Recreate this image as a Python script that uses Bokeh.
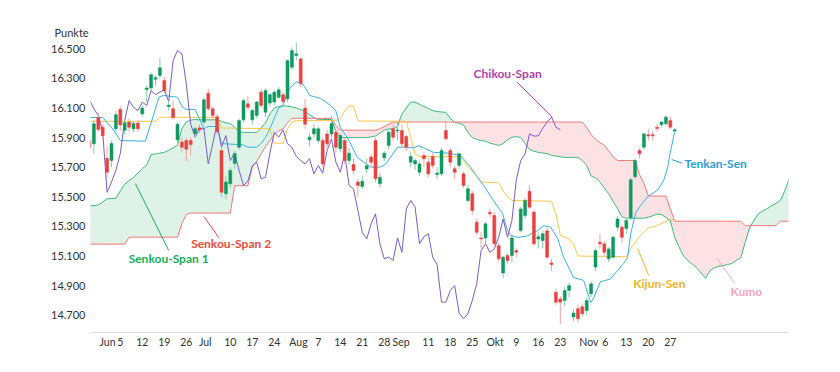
import numpy as np
from bokeh.plotting import figure
from bokeh.models import Range1d, FixedTicker, Label, ColumnDataSource
from bokeh.embed import file_html
from bokeh.resources import INLINE

# ---------------- data (trading-day index: 0 = 1 Jun 2023, -5 = 25 May 2023) ----------------
first_idx = -5

opens = [15880, 15858, 16035, 15970, 15760,
         15745, 15960, 16090, 15950, 16005, 15960, 15998,
         16060, 16225, 16235, 16295, 16320,
         16285, 16110, 16095, 15885, 15870,
         15880, 15880, 15927, 15966, 16005,
         16200, 16095, 16040, 15812, 15520,
         15588, 15725, 15835, 16020, 16128,
         16020, 16050, 16207, 16072, 16133,
         16140, 16173, 16190, 16162, 16375,
         16455, 16432, 16100, 15885, 15925,
         15880, 15880, 15925, 15925, 15936,
         15825, 15880, 15745, 15718, 15600,
         15570, 15688, 15768, 15880, 15588,
         15763, 15847, 15960, 15945, 15948,
         15907, 15734, 15722, 15666, 15779,
         15734, 15772, 15650, 15655, 15948,
         15812, 15690, 15712, 15655, 15475,
         15520, 15328, 15222, 15222, 15395,
         15373, 15170, 14985, 15103, 15103,
         15137, 15272, 15373, 15538, 15396,
         15215, 15205, 15270, 15053, 14855,
         14810, 14800, 14867, 14687, 14743,
         14757, 14732, 14845, 15025, 15193,
         15182, 15081, 15092, 15295, 15295,
         15285, 15358, 15635, 15812, 15835,
         15920, 15920, 15970, 15987, 15993,
         16015, 15944]

highs = [15900, 16015, 16065, 15990, 15840,
         15880, 16080, 16115, 16020, 16030, 16010, 16020,
         16115, 16250, 16340, 16320, 16440,
         16310, 16150, 16150, 16000, 15900,
         15900, 15900, 15975, 15990, 16170,
         16230, 16110, 16060, 15840, 15640,
         15700, 15810, 16030, 16160, 16180,
         16095, 16150, 16230, 16230, 16200,
         16220, 16240, 16210, 16430, 16510,
         16540, 16440, 16160, 15930, 15990,
         15975, 15900, 15950, 16050, 15960,
         15930, 15900, 15830, 15760, 15620,
         15640, 15760, 15790, 15900, 15660,
         15810, 15950, 15990, 16000, 15990,
         15920, 15800, 15760, 15740, 15800,
         15760, 15800, 15700, 15830, 16005,
         15830, 15710, 15800, 15670, 15580,
         15540, 15350, 15260, 15330, 15420,
         15400, 15190, 15100, 15120, 15240,
         15150, 15430, 15490, 15575, 15410,
         15260, 15270, 15290, 15080, 14880,
         14830, 14890, 14920, 14740, 14770,
         14780, 14820, 14930, 15150, 15250,
         15200, 15160, 15240, 15370, 15310,
         15350, 15630, 15760, 15830, 15935,
         15960, 15945, 15990, 16010, 16050,
         16040, 15965]

lows = [15760, 15790, 15940, 15880, 15630,
        15700, 15940, 15950, 15920, 15940, 15935, 15940,
        16040, 16140, 16220, 16250, 16300,
        16200, 16080, 16020, 15860, 15800,
        15740, 15780, 15900, 15930, 15990,
        16080, 16020, 15920, 15497, 15480,
        15560, 15690, 15820, 16000, 16080,
        15990, 16030, 16100, 16040, 16110,
        16120, 16160, 16120, 16140, 16360,
        16420, 16240, 15960, 15840, 15900,
        15860, 15700, 15820, 15900, 15800,
        15800, 15720, 15720, 15650, 15500,
        15550, 15660, 15700, 15600, 15560,
        15740, 15820, 15880, 15880, 15830,
        15810, 15700, 15680, 15640, 15700,
        15630, 15690, 15620, 15640, 15880,
        15700, 15620, 15690, 15560, 15460,
        15380, 15240, 15150, 15180, 15360,
        15170, 15060, 14950, 15050, 15060,
        15090, 15260, 15350, 15420, 15170,
        15150, 15150, 15080, 15000, 14770,
        14640, 14760, 14820, 14660, 14650,
        14690, 14700, 14820, 15000, 15150,
        15100, 15060, 15080, 15270, 15190,
        15250, 15340, 15620, 15760, 15820,
        15880, 15880, 15940, 15970, 15980,
        15955, 15935]

closes = [15830, 15993, 15955, 15912, 15665,
          15860, 16055, 15985, 16000, 15970, 15995, 15960,
          16100, 16235, 16325, 16305, 16372,
          16215, 16120, 16035, 15990, 15835,
          15822, 15853, 15960, 15952, 16155,
          16095, 16050, 15940, 15530, 15600,
          15678, 15792, 16015, 16150, 16105,
          16083, 16140, 16117, 16218, 16190,
          16207, 16223, 16143, 16420, 16488,
          16466, 16264, 15990, 15903, 15960,
          15960, 15722, 15858, 15993, 15835,
          15914, 15745, 15795, 15678, 15577,
          15605, 15710, 15734, 15622, 15632,
          15795, 15936, 15903, 15952, 15858,
          15835, 15772, 15745, 15722, 15757,
          15655, 15712, 15660, 15812, 15892,
          15734, 15666, 15790, 15577, 15554,
          15407, 15260, 15215, 15317, 15385,
          15182, 15081, 15092, 15070, 15222,
          15125, 15418, 15475, 15430, 15182,
          15230, 15250, 15092, 15042, 14788,
          14788, 14867, 14900, 14714, 14676,
          14710, 14800, 14912, 15137, 15182,
          15125, 15148, 15227, 15350, 15227,
          15340, 15615, 15745, 15790, 15925,
          15910, 15912, 15962, 16005, 16038,
          15970, 15953]

# Tenkan-Sen (vertices: trading-day index, value)
tenkan_x = [-5, -2, 0.5, 2, 7.7, 8.9, 10.8, 11.8, 15, 16, 17, 19, 20, 21, 22, 24, 25, 30, 31, 33,
            34, 35, 36, 37, 38, 39, 40, 41, 42, 43, 44, 45, 47.5, 49.8, 51, 52, 53.6, 55.9, 58.9, 61,
            62.3, 65, 67.3, 68.6, 69.8, 71, 73.2, 76.4, 79.3, 80.9, 81.6, 83.2, 84.5, 86.8, 88.9, 90,
            90.7, 92.3, 94.5, 95.9, 96.8, 98.2, 99.8, 101.4, 102.7, 105, 107.3, 108.9, 109.5, 111.1,
            113.4, 116.4, 117.3, 118, 119.1, 120.2, 122, 124.1, 125.5, 126.4, 127, 128]
tenkan_y = [16036, 16036, 15950, 15880, 15876, 15990, 16173, 16185, 16173, 16110, 16090, 16090, 16025,
            15960, 15975, 15975, 15860, 15850, 15835, 15835, 15860, 15900, 15960, 16030, 16100, 16115,
            16210, 16250, 16275, 16272, 16240, 16185, 16165, 16117, 16080, 15967, 15900, 15765, 15700,
            15700, 15720, 15835, 15835, 15830, 15845, 15830, 15800, 15795, 15780, 15725, 15700, 15630,
            15580, 15475, 15385, 15270, 15240, 15225, 15235, 15260, 15270, 15305, 15295, 15218, 15095,
            14955, 14935, 14785, 14810, 14925, 14945, 15050, 15090, 15250, 15390, 15440, 15505, 15545,
            15610, 15700, 15800, 15940]

# Kijun-Sen (vertices)
kijun_x = [-5, 10, 11, 24, 25, 36, 37, 39, 40, 41, 42, 51, 52, 53, 54, 55, 56, 67, 68, 69, 70, 79,
           80, 81, 83, 84, 88, 89, 90, 91, 100, 101, 102, 104, 105, 106, 117, 118, 120, 122, 124,
           126, 127, 128]
kijun_y = [16010, 16010, 16037, 16037, 15965, 15960, 15862, 15862, 15958, 16003, 16015, 16015, 16030,
           16080, 16115, 16115, 16012, 16010, 15900, 15790, 15772, 15770, 15740, 15700, 15645, 15600,
           15595, 15540, 15500, 15475, 15470, 15385, 15240, 15215, 15180, 15100, 15095, 15150, 15230,
           15290, 15305, 15335, 15345, 15345]

# Senkou spans, one value per trading day from index -5 to 154
span_first = -5
span_a = [15440, 15440, 15445, 15465, 15487,
          15488, 15490, 15540, 15585, 15610, 15630, 15660, 15690, 15715, 15785,
          15790, 15795, 15800, 15815, 15830, 15850, 15960, 16005, 16018, 16022,
          16020, 16020, 16020, 16020, 16020, 16010, 16000, 15995, 15970, 15940,
          15935, 15935, 15935, 15935, 15965, 16000, 16060, 16100, 16110, 16115,
          16112, 16108, 16100, 16090, 16075, 16055, 16035, 16020, 16022, 16022,
          16022, 15940, 15900, 15900, 15900, 15900, 15900, 15900, 15900, 15905,
          15910, 15930, 15950, 15958, 15960, 15975, 16060, 16100, 16140, 16140,
          16125, 16110, 16097, 16082, 16076, 16073, 16070, 16030, 16002, 15998,
          15985, 15935, 15900, 15888, 15880, 15875, 15862, 15855, 15847, 15860,
          15885, 15903, 15906, 15900, 15860, 15820, 15808, 15800, 15796, 15792,
          15780, 15775, 15770, 15766, 15766, 15766, 15766, 15745, 15712, 15640,
          15628, 15600, 15560, 15520, 15470, 15420, 15365, 15355, 15355, 15355,
          15355, 15355, 15362, 15372, 15382, 15380, 15362, 15340, 15225, 15160,
          15100, 15068, 15045, 15020, 14985, 14950, 15000, 15020, 15030, 15035,
          15042, 15050, 15070, 15088, 15190, 15290, 15340, 15385, 15405, 15420,
          15440, 15455, 15475, 15540, 15620]
span_b = [15180, 15180, 15180, 15180, 15180,
          15180, 15180, 15180, 15180, 15227, 15227, 15227, 15227, 15227, 15227,
          15227, 15227, 15227, 15227, 15227, 15227, 15320, 15380, 15390, 15390,
          15390, 15390, 15390, 15390, 15390, 15390, 15390, 15390, 15575, 15575,
          15575, 15575, 15700, 15740, 15790, 15840, 15880, 15920, 15945, 15960,
          16000, 16030, 16030, 16030, 16030, 16030, 16030, 16030, 16030, 16030,
          16030, 15980, 15950, 15950, 15950, 15950, 15950, 15950, 15950, 15950,
          15950, 15960, 15975, 15990, 16005, 16005, 16005, 16005, 16005, 16005,
          16005, 16005, 16005, 16005, 16005, 16005, 16005, 16005, 16005, 16005,
          16005, 16005, 16005, 16005, 16005, 16005, 16005, 16005, 16005, 16005,
          16005, 16005, 16005, 16005, 16005, 16005, 16005, 16005, 16005, 16005,
          16005, 16005, 16005, 16005, 16005, 16005, 16005, 16005, 15970, 15920,
          15890, 15865, 15850, 15810, 15770, 15745, 15745, 15745, 15745, 15745,
          15650, 15590, 15505, 15505, 15505, 15505, 15505, 15420, 15335, 15335,
          15335, 15335, 15335, 15335, 15335, 15335, 15335, 15335, 15335, 15335,
          15335, 15335, 15335, 15335, 15305, 15305, 15305, 15305, 15305, 15305,
          15305, 15305, 15335, 15335, 15335]

chikou_shift = 26

# axis ticks
y_ticks = [14700, 14900, 15100, 15300, 15500, 15700, 15900, 16100, 16300, 16500]
y_labels = ["14.700", "14.900", "15.100", "15.300", "15.500", "15.700", "15.900", "16.100", "16.300", "16.500"]
x_ticks = [-0.9, 2, 7, 12, 17, 21.3, 27, 32, 37, 42.5, 47, 52, 57, 62, 65.8, 72, 77, 82, 87.2, 92, 97,
           102, 108.5, 112.2, 117, 122, 127]
x_labels = ["Jun", "5", "12", "19", "26", "Jul", "10", "17", "24", "Aug", "7", "14", "21", "28", "Sep",
            "11", "18", "25", "Okt", "9", "16", "23", "Nov", "6", "13", "20", "27"]

# ---------------- figure ----------------
FONT = "Lato"
GREEN = "#0f9960"
RED = "#e8413f"
GREEN_WICK = "#86cdaa"
RED_WICK = "#f2a3a3"

p = figure(width=824, height=356, output_backend="svg", toolbar_location=None,
           x_range=Range1d(-4.77, 153.86), y_range=Range1d(14583, 16556),
           min_border_left=90, min_border_right=36, min_border_top=40, min_border_bottom=24)
p.outline_line_color = None
p.grid.visible = False
p.background_fill_color = "white"
p.border_fill_color = "white"

p.title.text = "Punkte"
p.title.align = "left"
p.title.offset = -36
p.title.standoff = 4
p.title.text_font = FONT
p.title.text_font_size = "11px"
p.title.text_font_style = "normal"
p.title.text_color = "#333333"

o = np.array(opens, dtype=float)
h = np.array(highs, dtype=float)
l = np.array(lows, dtype=float)
c = np.array(closes, dtype=float)
idx = np.arange(first_idx, first_idx + len(o))
up = c >= o

span_x = np.arange(span_first, span_first + len(span_a))
A = np.array(span_a, dtype=float)
B = np.array(span_b, dtype=float)
top = np.maximum(A, B)

# Kumo (cloud)
p.varea(x=span_x, y1=B, y2=top, fill_color="#dff2e7")
p.varea(x=span_x, y1=A, y2=top, fill_color="#fde2e5")
p.line(span_x, A, line_color="#3dba7e", line_width=1)
p.line(span_x, B, line_color="#f47777", line_width=1)

# Kijun / Tenkan / Chikou
p.line(kijun_x, kijun_y, line_color="#f8c84e", line_width=1)
p.line(tenkan_x, tenkan_y, line_color="#3ab2e4", line_width=1)
p.line(idx[:len(c) - chikou_shift], c[chikou_shift:], line_color="#7b5bd3", line_width=1)

# candles
src = ColumnDataSource(dict(
    x=idx, h=h, l=l, top=np.maximum(o, c), bot=np.minimum(o, c),
    body=np.where(up, GREEN, RED), wick=np.where(up, GREEN_WICK, RED_WICK)))
p.segment(x0="x", y0="l", x1="x", y1="h", line_color="wick", line_width=1, source=src)
p.vbar(x="x", width=0.68, top="top", bottom="bot", fill_color="body", line_color="body",
       line_width=0.5, source=src)

# axes
p.yaxis.ticker = FixedTicker(ticks=y_ticks)
p.yaxis.major_label_overrides = dict(zip(y_ticks, y_labels))
p.yaxis.axis_line_color = None
p.yaxis.major_tick_line_color = None
p.yaxis.minor_tick_line_color = None
p.yaxis.major_tick_out = 0
p.yaxis.major_label_standoff = 5
p.xaxis.ticker = FixedTicker(ticks=x_ticks)
p.xaxis.major_label_overrides = dict(zip(x_ticks, x_labels))
p.xaxis.axis_line_color = "#dcdcdc"
p.xaxis.major_tick_line_color = None
p.xaxis.minor_tick_line_color = None
p.xaxis.major_tick_out = 0
p.xaxis.major_label_standoff = 3
for ax in (p.xaxis, p.yaxis):
    ax.major_label_text_font = FONT
    ax.major_label_text_color = "#333333"
p.yaxis.major_label_text_font_size = "11px"
p.xaxis.major_label_text_font_size = "10.5px"

# annotations (label text, colour, label anchor, leader line)
annotations = [
    ("Chikou-Span", "#b53fb4", (82.3, 16331), (92.2, 16274, 100.2, 16038)),
    ("Tenkan-Sen", "#2b9fdb", (130.2, 15727), (127.3, 15752, 129.7, 15727)),
    ("Senkou-Span 2", "#ef4a3c", (18.1, 15186), (21.0, 15367, 24.4, 15223)),
    ("Senkou-Span 1", "#18ad5c", (3.9, 15081), (5.45, 15588, 13.0, 15137)),
    ("Kijun-Sen", "#f5b426", (118.6, 14916), (119.6, 15149, 122.1, 14968)),
    ("Kumo", "#f6a6c3", (140.7, 14862), (137.5, 15088, 141.6, 14916)),
]
for text, col, (lx, ly), (x0, y0, x1, y1) in annotations:
    p.segment(x0=[x0], y0=[y0], x1=[x1], y1=[y1], line_color=col, line_width=1)
    p.add_layout(Label(x=lx, y=ly, text=text, text_color=col, text_font=FONT,
                       text_font_size="12px", text_font_style="bold",
                       text_baseline="middle", text_align="left"))

open("out.html", "w").write(file_html(p, INLINE))
